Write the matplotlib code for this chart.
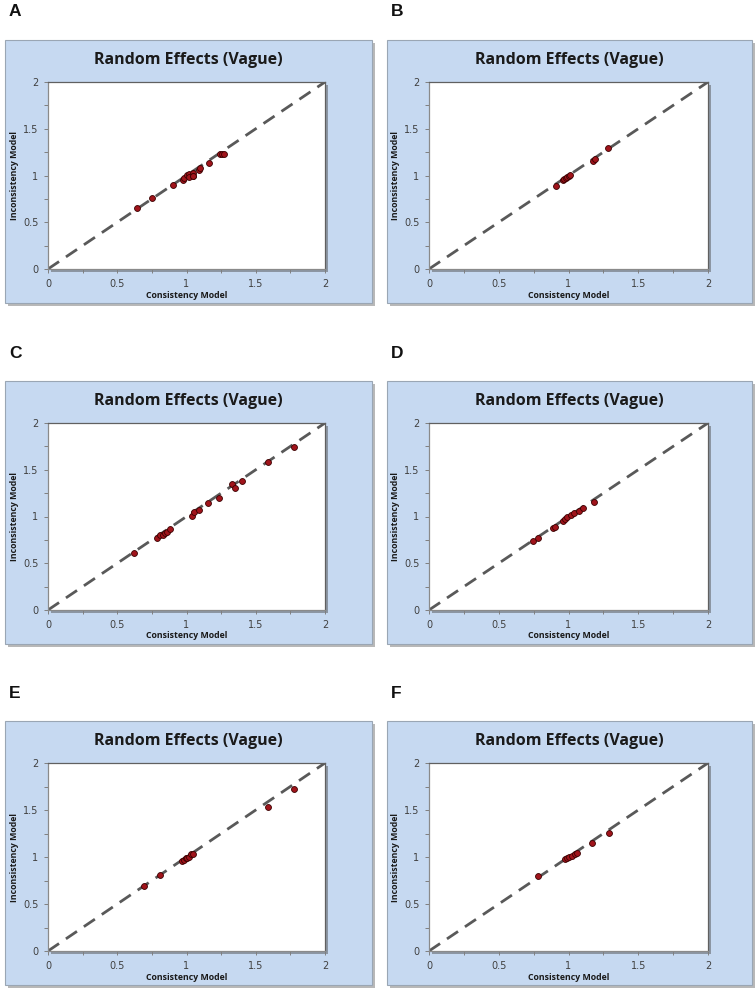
import matplotlib
matplotlib.use("Agg")
import matplotlib.pyplot as plt
from matplotlib.patches import Rectangle
from matplotlib.ticker import MultipleLocator

# ---- data (Consistency model vs Inconsistency model) ----
panel_labels = ["A", "B", "C", "D", "E", "F"]
panel_title = "Random Effects (Vague)"
x_label = "Consistency Model"
y_label = "Inconsistency Model"
tick_values = [0, 0.5, 1, 1.5, 2]
tick_labels = ["0", "0.5", "1", "1.5", "2"]

a_x = [0.645, 0.748, 0.905, 0.972, 0.985, 1.005, 1.015, 1.02, 1.045, 1.05, 1.05, 1.093, 1.098, 1.162, 1.242, 1.255, 1.27]
a_y = [0.650, 0.756, 0.895, 0.950, 0.970, 1.005, 1.018, 0.987, 1.025, 1.000, 0.995, 1.060, 1.085, 1.137, 1.230, 1.232, 1.233]

b_x = [0.908, 0.96, 0.97, 0.98, 0.99, 1.0, 1.01, 1.175, 1.19, 1.285]
b_y = [0.89, 0.95, 0.96, 0.97, 0.98, 0.99, 1.005, 1.155, 1.175, 1.29]

c_x = [0.62, 0.785, 0.81, 0.83, 0.845, 0.857, 0.88, 1.037, 1.057, 1.093, 1.153, 1.232, 1.331, 1.35, 1.4, 1.586, 1.776]
c_y = [0.605, 0.767, 0.80, 0.80, 0.827, 0.838, 0.866, 1.01, 1.05, 1.07, 1.14, 1.20, 1.344, 1.305, 1.383, 1.586, 1.74]

d_x = [0.743, 0.779, 0.887, 0.903, 0.958, 0.975, 0.992, 1.016, 1.039, 1.075, 1.102, 1.185]
d_y = [0.738, 0.767, 0.880, 0.891, 0.952, 0.970, 0.991, 1.016, 1.041, 1.059, 1.088, 1.155]

e_x = [0.693, 0.809, 0.965, 0.982, 0.996, 1.006, 1.02, 1.032, 1.049, 1.588, 1.778]
e_y = [0.695, 0.805, 0.957, 0.968, 0.986, 0.993, 1.003, 1.029, 1.032, 1.535, 1.723]

f_x = [0.784, 0.975, 0.987, 1.004, 1.023, 1.047, 1.063, 1.171, 1.293]
f_y = [0.798, 0.975, 0.986, 0.997, 1.011, 1.032, 1.039, 1.152, 1.258]

series = [(a_x, a_y), (b_x, b_y), (c_x, c_y), (d_x, d_y), (e_x, e_y), (f_x, f_y)]

# ---- layout ----
W, H = 756, 991
fig = plt.figure(figsize=(W / 100, H / 100), dpi=100)
fig.patch.set_facecolor("white")

def fx(px):
    return px / W

def fy(py):
    return 1 - py / H

col_plot = [(48, 325), (429, 708)]
col_box = [(5, 372), (387, 752)]
row_plot = [(82, 269), (423, 610), (763, 951)]

box_color = "#C6D9F1"
title_font = ["Open Sans", "DejaVu Sans"]

for i, (xs, ys) in enumerate(series):
    r, c = divmod(i, 2)
    px0, px1 = col_plot[c]
    py0, py1 = row_plot[r]
    bx0, bx1 = col_box[c]
    by0, by1 = py0 - 42, py1 + 34

    # box shadow + box
    fig.add_artist(Rectangle((fx(bx0 + 3), fy(by1 + 3)), fx(bx1 - bx0), (by1 - by0) / H,
                             transform=fig.transFigure, facecolor="#b8b8b8",
                             edgecolor="none", zorder=0))
    fig.add_artist(Rectangle((fx(bx0), fy(by1)), fx(bx1 - bx0), (by1 - by0) / H,
                             transform=fig.transFigure, facecolor=box_color,
                             edgecolor="#9aa6b4", linewidth=0.8, zorder=0.5))
    # plot area shadow
    fig.add_artist(Rectangle((fx(px0 + 2.5), fy(py1 + 2.5)), fx(px1 - px0), (py1 - py0) / H,
                             transform=fig.transFigure, facecolor="#8c96a3",
                             edgecolor="none", zorder=0.8))

    ax = fig.add_axes([fx(px0), fy(py1), fx(px1 - px0), (py1 - py0) / H])
    ax.set_zorder(1)
    ax.set_facecolor("white")
    ax.plot([0, 2], [0, 2], color="#595959", linewidth=2.0, dashes=(4.8, 3), zorder=2)
    ax.scatter(xs, ys, s=18, color="#A0141B", edgecolors="#3a0000",
               linewidths=0.6, zorder=3)
    ax.set_xlim(0, 2)
    ax.set_ylim(0, 2)
    ax.set_xticks(tick_values)
    ax.set_xticklabels(tick_labels)
    ax.set_yticks(tick_values)
    ax.set_yticklabels(tick_labels)
    ax.xaxis.set_minor_locator(MultipleLocator(0.25))
    ax.yaxis.set_minor_locator(MultipleLocator(0.25))
    ax.tick_params(axis="both", which="both", direction="out", length=3,
                   width=0.7, color="#7f7f7f", labelsize=7, labelcolor="#404040",
                   pad=4)
    for sp in ax.spines.values():
        sp.set_color("#606060")
        sp.set_linewidth(0.9)
    ax.spines["left"].set_color("#8a8a8a")
    ax.spines["bottom"].set_color("#8a8a8a")

    cx_box = (bx0 + bx1) / 2
    fig.text(fx(cx_box), fy(py0 - 22), panel_title, ha="center", va="center",
             fontsize=11.5, fontweight="bold", family=title_font, color="#1a1a1a")
    fig.text(fx((px0 + px1) / 2), fy(py1 + 26), x_label, ha="center", va="center",
             fontsize=6.3, fontweight="bold", family=title_font, color="#1a1a1a")
    fig.text(fx(px0 - 33), fy((py0 + py1) / 2), y_label, ha="center", va="center",
             rotation=90, fontsize=6.3, fontweight="bold", family=title_font,
             color="#1a1a1a")
    fig.text(fx(bx0 + 4), fy(by0 - 28), panel_labels[i], ha="left", va="center",
             fontsize=12.5, fontweight="bold", family=["Liberation Sans", "DejaVu Sans"],
             color="#111111")

fig.savefig("out.png", dpi=100)
